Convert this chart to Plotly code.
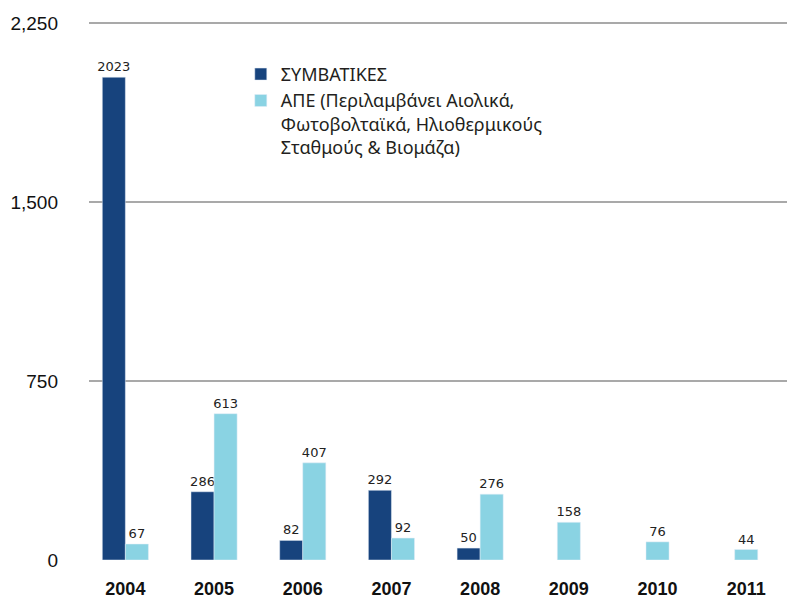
import plotly.graph_objects as go

years = ["2004", "2005", "2006", "2007", "2008", "2009", "2010", "2011"]
conventional = [2023, 286, 82, 292, 50, None, None, None]
renewables = [67, 613, 407, 92, 276, 158, 76, 44]
y_ticks = [0, 750, 1500, 2250]

name_conv = "ΣΥΜΒΑΤΙΚΕΣ"
name_res = "ΑΠΕ (Περιλαμβάνει Αιολικά,<br>Φωτοβολταϊκά, Ηλιοθερμικούς<br>Σταθμούς & Βιομάζα)"

DARK = "#17437d"
LIGHT = "#8ad3e3"
W = 0.26

conv_offset = [-W] * len(years)
res_offset = [0 if c is not None else -W / 2 for c in conventional]

label_font = dict(family="DejaVu Sans", size=13, color="#222222")

fig = go.Figure()
fig.add_trace(go.Bar(
    x=years, y=conventional, name=name_conv, marker_color=DARK,
    width=W, offset=conv_offset,
    text=[str(v) if v is not None else "" for v in conventional],
    textposition="outside", textfont=label_font, cliponaxis=False,
    constraintext="none",
))
fig.add_trace(go.Bar(
    x=years, y=renewables, name=name_res, marker_color=LIGHT,
    width=W, offset=res_offset,
    text=[str(v) for v in renewables],
    textposition="outside", textfont=label_font, cliponaxis=False,
    constraintext="none",
))

# page body has an 8px margin, so the figure is 8px smaller than the window
fig.update_layout(
    width=787, height=591,
    margin=dict(l=81, r=0, t=0, b=39, autoexpand=False),
    plot_bgcolor="white", paper_bgcolor="white",
    barmode="overlay",
    showlegend=True,
    legend=dict(
        x=0.215, y=0.919, xanchor="left", yanchor="top",
        xref="paper", yref="container", valign="top",
        font=dict(family="Noto Sans", size=18, color="#231f20"),
        bgcolor="rgba(0,0,0,0)", tracegroupgap=3, itemwidth=30,
    ),
    xaxis=dict(
        type="category", range=[-0.41, 7.55], automargin=False,
        showgrid=False, zeroline=False, showline=False,
        ticks="", ticklabelstandoff=16,
        tickfont=dict(family="Liberation Sans", size=18, color="#111111", weight="bold"),
    ),
    yaxis=dict(
        range=[0, 2313], tickvals=y_ticks, tickformat=",", automargin=False,
        showgrid=True, gridcolor="#a9a9a9", gridwidth=2,
        zeroline=False, showline=False, ticks="",
        ticklabelstandoff=30,
        tickfont=dict(family="Liberation Sans", size=19, color="#111111"),
    ),
    shapes=[dict(
        type="rect", xref="paper", x0=0, x1=1,
        yref="y", ysizemode="pixel", yanchor=0, y0=0, y1=-8,
        fillcolor="#231f20", line=dict(width=0), layer="above",
    )],
)

fig.write_html("out.html")
